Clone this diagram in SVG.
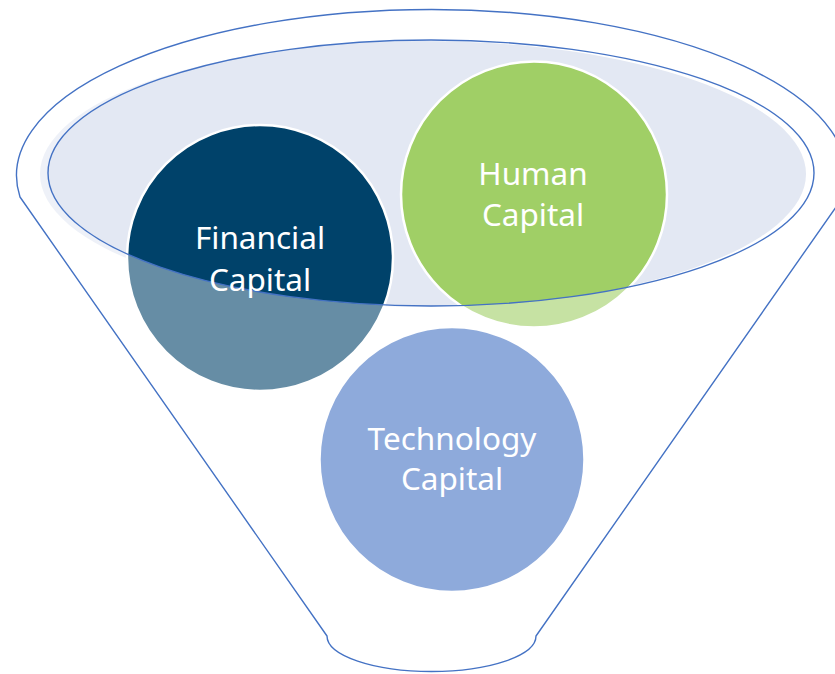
<svg xmlns="http://www.w3.org/2000/svg" width="835" height="674" viewBox="0 0 835 674">
  <style>
    .circ { stroke: #ffffff; stroke-width: 2.5; }
    .line { fill: none; stroke: #4472c4; stroke-width: 1.4; stroke-linejoin: round; }
    .lbl { font-family: "Noto Sans", "Open Sans", sans-serif; font-size: 31.5px; fill: #ffffff; text-anchor: middle; }
  </style>
  <rect width="835" height="674" fill="#ffffff"/>
  <g id="funnel-top-fill">
    <ellipse cx="423" cy="174" rx="383" ry="133" fill="#e3e8f3"/>
  </g>
  <g id="financial-capital">
    <circle class="circ" cx="260" cy="258" r="133" fill="#00426a"/>
  </g>
  <g id="human-capital">
    <circle class="circ" cx="534" cy="194.5" r="133" fill="#a0cf66"/>
  </g>
  <g id="technology-capital">
    <circle class="circ" cx="452" cy="459.5" r="132.5" fill="#4472c4"/>
  </g>
  <g id="funnel-body-overlay">
    <path d="M0,0 H835 V674 H0 Z M48,173 A383 133 0 1 0 814,173 A383 133 0 1 0 48,173 Z" fill="#ffffff" fill-opacity="0.4" fill-rule="evenodd"/>
  </g>
  <g id="connectors">
    <ellipse class="line" cx="431" cy="173" rx="383" ry="133"/>
    <path class="line" d="M327,636 L20,197 A415 166 0 1 1 843,197 L536,636 A104.5 35.5 0 0 1 327,636 Z"/>
  </g>
  <g id="labels">
    <text class="lbl" x="260" y="249">Financial</text>
    <text class="lbl" x="260" y="291">Capital</text>
    <text class="lbl" x="533" y="185">Human</text>
    <text class="lbl" x="533" y="226">Capital</text>
    <text class="lbl" x="452" y="450">Technology</text>
    <text class="lbl" x="452" y="490">Capital</text>
  </g>
</svg>
